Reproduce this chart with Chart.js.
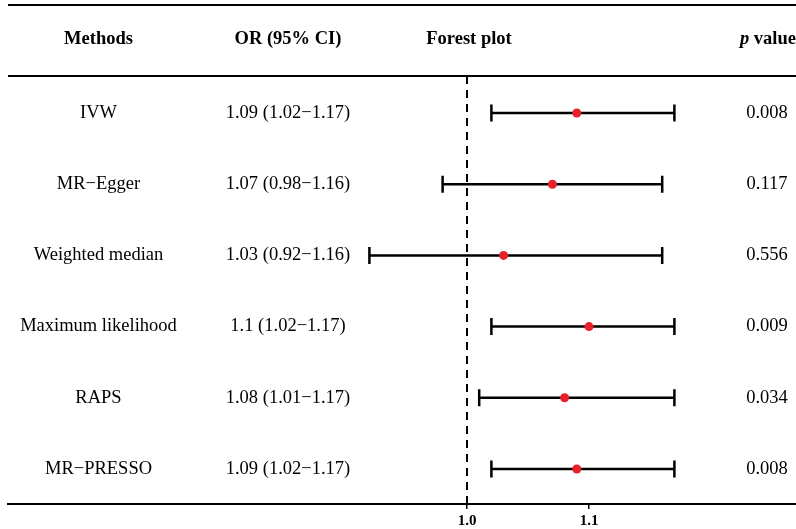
<!DOCTYPE html>
<html>
<head>
<meta charset="utf-8">
<script src="https://cdn.jsdelivr.net/npm/chart.js@4/dist/chart.umd.min.js"></script>
<style>
  html, body { margin: 0; padding: 0; background: #ffffff; }
  #wrap { width: 796px; height: 529px; }
</style>
</head>
<body>
<div id="wrap"><canvas id="c" width="796" height="529"></canvas></div>
<script>
// ---- data ----
const methods = ["IVW", "MR\u2212Egger", "Weighted median", "Maximum likelihood", "RAPS", "MR\u2212PRESSO"];
const orValues = [1.09, 1.07, 1.03, 1.10, 1.08, 1.09];
const lowerCI = [1.02, 0.98, 0.92, 1.02, 1.01, 1.02];
const upperCI = [1.17, 1.16, 1.16, 1.17, 1.17, 1.17];
const ciLabels = ["1.09 (1.02\u22121.17)", "1.07 (0.98\u22121.16)", "1.03 (0.92\u22121.16)", "1.1 (1.02\u22121.17)", "1.08 (1.01\u22121.17)", "1.09 (1.02\u22121.17)"];
const pValues = ["0.008", "0.117", "0.556", "0.009", "0.034", "0.008"];
const xTicks = [1.0, 1.1];
const refValue = 1.0;
const headers = ["Methods", "OR (95% CI)", "Forest plot", "value"];

const SERIF = '"Liberation Serif", "Times New Roman", serif';

const forestPlugin = {
  id: 'forest',
  beforeDatasetsDraw(chart) {
    const ctx = chart.ctx;
    const xs = chart.scales.x, ys = chart.scales.y;
    const area = chart.chartArea;
    ctx.save();
    // top rule and header rule
    ctx.strokeStyle = '#000';
    ctx.lineWidth = 2;
    ctx.beginPath();
    ctx.moveTo(area.left, 5); ctx.lineTo(area.right, 5);
    ctx.moveTo(area.left, area.top); ctx.lineTo(area.right, area.top);
    ctx.stroke();
    // reference dashed line
    const rx = xs.getPixelForValue(refValue);
    ctx.setLineDash([8, 6]);
    ctx.lineWidth = 2;
    ctx.beginPath();
    ctx.moveTo(rx, area.top); ctx.lineTo(rx, area.bottom);
    ctx.stroke();
    ctx.setLineDash([]);
    // error bars
    ctx.lineWidth = 2.5;
    for (let i = 0; i < methods.length; i++) {
      const y = ys.getPixelForValue(i);
      const x1 = xs.getPixelForValue(lowerCI[i]);
      const x2 = xs.getPixelForValue(upperCI[i]);
      ctx.beginPath();
      ctx.moveTo(x1, y); ctx.lineTo(x2, y);
      ctx.moveTo(x1, y - 8.5); ctx.lineTo(x1, y + 8.5);
      ctx.moveTo(x2, y - 8.5); ctx.lineTo(x2, y + 8.5);
      ctx.stroke();
    }
    // headers
    ctx.fillStyle = '#000';
    ctx.textBaseline = 'middle';
    ctx.textAlign = 'center';
    ctx.font = 'bold 18.5px ' + SERIF;
    const hy = 39;
    ctx.fillText(headers[0], 98.5, hy);
    ctx.fillText(headers[1], 288, hy);
    ctx.fillText(headers[2], 469, hy);
    // "p value"
    ctx.textAlign = 'right';
    ctx.fillText(headers[3], 796, hy);
    const vw = ctx.measureText(' ' + headers[3]).width;
    ctx.font = 'italic bold 18.5px ' + SERIF;
    ctx.fillText('p', 796 - vw, hy);
    // rows
    ctx.font = '18.5px ' + SERIF;
    ctx.textAlign = 'center';
    for (let i = 0; i < methods.length; i++) {
      const y = ys.getPixelForValue(i);
      ctx.fillText(methods[i], 98.5, y);
      ctx.fillText(ciLabels[i], 288, y);
      ctx.fillText(pValues[i], 767, y);
    }
    ctx.restore();
  }
};

new Chart(document.getElementById('c'), {
  type: 'scatter',
  data: {
    datasets: [{
      data: orValues.map((v, i) => ({ x: v, y: i })),
      backgroundColor: '#e8202a',
      borderColor: '#e8202a',
      pointRadius: 4.5,
      pointHoverRadius: 4.5,
      borderWidth: 0
    }]
  },
  options: {
    responsive: false,
    animation: false,
    devicePixelRatio: 1,
    layout: { autoPadding: false, padding: { left: 8, right: 0, top: 76, bottom: 0 } },
    plugins: { legend: { display: false }, tooltip: { enabled: false }, title: { display: false } },
    scales: {
      x: {
        type: 'linear',
        min: 0.62377,
        max: 1.26967,
        afterBuildTicks(scale) { scale.ticks = xTicks.map(v => ({ value: v })); },
        afterFit(scale) { scale.height = 25; },
        ticks: {
          callback: v => Number(v).toFixed(1),
          color: '#000',
          font: { family: SERIF, size: 15, weight: 'bold' },
          padding: 3,
          maxRotation: 0,
          autoSkip: false
        },
        grid: { display: true, drawOnChartArea: false, drawTicks: true, tickLength: 5, color: '#000', lineWidth: 1.5 },
        border: { display: true, color: '#000', width: 2 }
      },
      y: {
        type: 'linear',
        reverse: true,
        min: -0.5197,
        max: 5.4915,
        display: false
      }
    }
  },
  plugins: [forestPlugin]
});
</script>
</body>
</html>
